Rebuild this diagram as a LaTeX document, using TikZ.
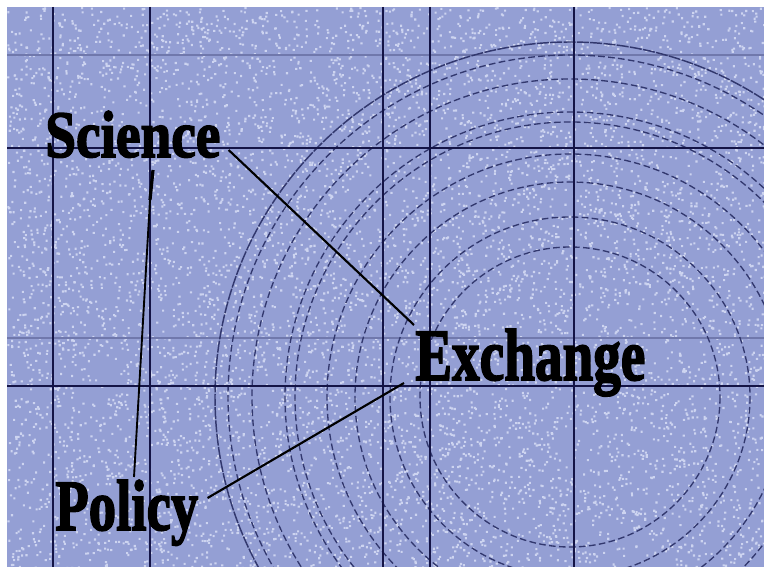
\documentclass[tikz,border=0pt]{standalone}
\usepackage{fontspec}
\usepackage{graphicx}
\newfontfamily\heavy[FakeBold=2.5]{Liberation Serif Bold}
\definecolor{bgblue}{RGB}{148,159,212}
\definecolor{speck}{RGB}{205,212,240}
\definecolor{gridnavy}{RGB}{20,20,70}
\definecolor{faintline}{RGB}{112,120,172}
\definecolor{ringnavy}{RGB}{50,56,110}
\tikzset{
  gridline/.style={gridnavy, line width=1.6pt},
  gridthin/.style={gridnavy, line width=1.0pt},
  faint/.style={faintline, line width=1.0pt},
  ring/.style={ringnavy, line width=1.0pt, dash pattern=on 5pt off 2.5pt},
  ringsolid/.style={ringnavy, line width=1.1pt, dash pattern=on 9pt off 1pt},
  label/.style={inner sep=0pt, anchor=base west, text=black},
  link/.style={black, line width=1.6pt},
}
\begin{document}
\begin{tikzpicture}[x=0.75pt,y=-0.75pt]
\useasboundingbox (0,0) rectangle (764,567);
\fill[white] (0,0) rectangle (764,567);
\fill[bgblue] (7,7) rectangle (764,567);
\pgfmathsetseed{12345}
\begin{scope}
\clip (7,7) rectangle (764,567);
\fill[speck] \foreach \i in {1,...,4000}{ ({7+757*rnd},{7+560*rnd}) rectangle ++(2.1,2.1) };
\fill[speck] \foreach \i in {1,...,3800}{ ({7+757*rnd},{7+560*rnd}) rectangle ++(2.1,2.1) };
% faint horizontal lines
\draw[faint] (7,55) -- (764,55);
\draw[faint] (7,338) -- (764,338);
% concentric rings
\draw[ringsolid] (570,397) circle (355);
\foreach \r in {342,318,285,275,243,215,180,150}{
  \draw[ring] (570,397) circle (\r);
}
% grid lines
\draw[gridthin] (7,148) -- (764,148);
\draw[gridthin] (7,386) -- (764,386);
\foreach \x in {53,150,383,430,574}{
  \draw[gridline] (\x,7) -- (\x,567);
}
\end{scope}
% labels
\node[label] (sci) at (45,157) {\resizebox{131.25pt}{34.5pt}{\heavy Science}};
\node[label] (exc) at (415,380) {\resizebox{172.5pt}{38.25pt}{\heavy Exchange}};
\node[label] (pol) at (55,530) {\resizebox{107.25pt}{37.5pt}{\heavy Policy}};
% connectors
\draw[link] ([shift={(8,-7)}]sci.base east) -- ([shift={(-1,-55)}]exc.base west);
\draw[link] ([shift={(9,-32)}]pol.base east) -- ([shift={(-11,3)}]exc.base west);
\draw[link, line width=2.4pt] ([shift={(108,13)}]sci.base west) -- ([shift={(105,43)}]sci.base west);
\draw[link, line width=1.4pt] ([shift={(105,43)}]sci.base west) -- ([shift={(79,-53)}]pol.base west);
\end{tikzpicture}
\end{document}
